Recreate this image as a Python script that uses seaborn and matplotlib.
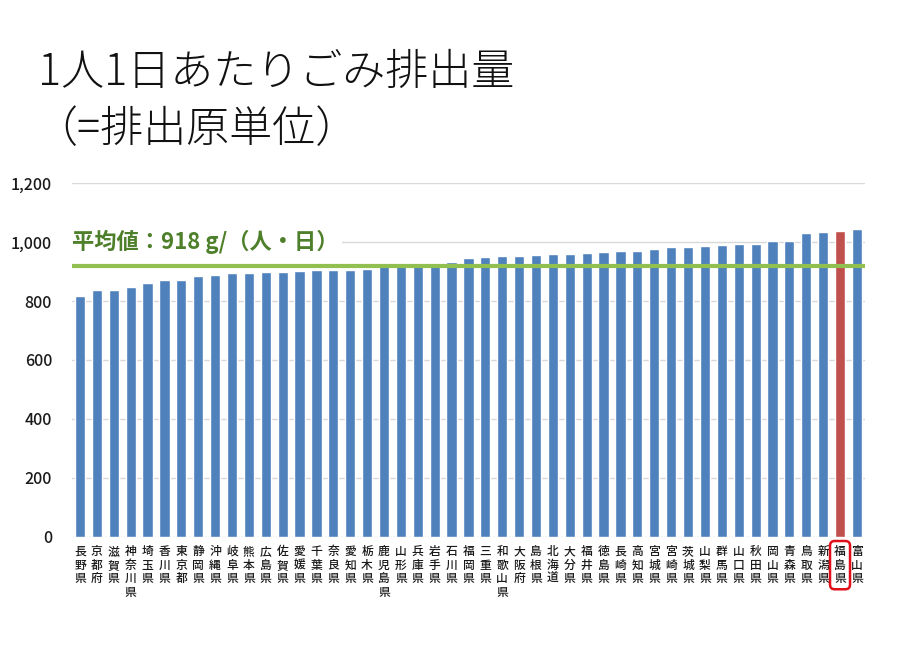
import matplotlib
matplotlib.use("Agg")
import matplotlib.pyplot as plt
import seaborn as sns
import pandas as pd
from matplotlib.ticker import FuncFormatter

prefectures = ["長野県", "京都府", "滋賀県", "神奈川県", "埼玉県", "香川県", "東京都", "静岡県",
               "沖縄県", "岐阜県", "熊本県", "広島県", "佐賀県", "愛媛県", "千葉県", "奈良県",
               "愛知県", "栃木県", "鹿児島県", "山形県", "兵庫県", "岩手県", "石川県", "福岡県",
               "三重県", "和歌山県", "大阪府", "島根県", "北海道", "大分県", "福井県", "徳島県",
               "長崎県", "高知県", "宮城県", "宮崎県", "茨城県", "山梨県", "群馬県", "山口県",
               "秋田県", "岡山県", "青森県", "鳥取県", "新潟県", "福島県", "富山県"]
values = [817, 837, 838, 848, 860, 870, 871, 885, 889, 894, 895, 899, 899, 902, 905, 905,
          905, 907, 918, 921, 924, 925, 933, 945, 948, 953, 953, 956, 961, 961, 964, 965,
          970, 971, 977, 982, 985, 986, 990, 992, 994, 1003, 1003, 1032, 1035, 1036, 1046]
highlight = "福島県"
average = 918
yticks = [0, 200, 400, 600, 800, 1000, 1200]

sns.set_theme(style="white")
plt.rcParams["font.family"] = ["Noto Sans CJK JP", "DejaVu Sans"]

fig = plt.figure(figsize=(9, 6.66), dpi=100)
ax = fig.add_axes([0.0795, 0.194, 0.882, 0.531])

df = pd.DataFrame({"pref": prefectures, "value": values})
blue = "#4F81BD"
red = "#C0504D"
pal = {p: (red if p == highlight else blue) for p in prefectures}
sns.barplot(data=df, x="pref", y="value", hue="pref", palette=pal, legend=False,
            width=0.6, ax=ax, saturation=1, zorder=2)

ax.set_ylim(0, 1200)
ax.set_xlim(-0.5, len(prefectures) - 0.5)
ax.set_yticks(yticks)
ax.yaxis.set_major_formatter(FuncFormatter(lambda v, p: f"{int(v):,}"))
ax.grid(axis="y", color="#D9D9D9", linewidth=1, zorder=0)
ax.set_axisbelow(True)
for s in ax.spines.values():
    s.set_visible(False)
ax.set_xlabel("")
ax.set_ylabel("")
ax.tick_params(axis="y", length=0, pad=14, labelsize=11.5, labelcolor="#1a1a1a")
ax.tick_params(axis="x", length=0, pad=6)
for lbl in ax.get_yticklabels():
    lbl.set_fontweight("medium")

ax.set_xticks(range(len(prefectures)))
ax.set_xticklabels(["\n".join(p) for p in prefectures], fontsize=8.5,
                   linespacing=1.05, color="#1a1a1a", va="top", fontweight="medium")
for lbl in ax.get_xticklabels():
    if lbl.get_text().replace("\n", "") == highlight:
        lbl.set_bbox(dict(boxstyle="round,pad=0.35,rounding_size=0.4",
                          ec="#E0101A", fc="none", lw=1.8))

ax.axhline(average, color="#92C050", linewidth=3, zorder=3)
ax.text(0.0, 1000, f"平均値：{average} g/（人・日）", color="#4E7F2A", fontsize=16,
        fontweight="bold", va="center", ha="left", zorder=4,
        transform=ax.get_yaxis_transform(),
        bbox=dict(fc="white", ec="none", pad=3))

fig.text(0.042, 0.892, "1人1日あたりごみ排出量", fontsize=31, va="center", ha="left",
         color="#111111", fontweight="light")
fig.text(0.038, 0.805, "（=排出原単位）", fontsize=31, va="center", ha="left",
         color="#111111", fontweight="light")

fig.savefig("out.png", dpi=100)
